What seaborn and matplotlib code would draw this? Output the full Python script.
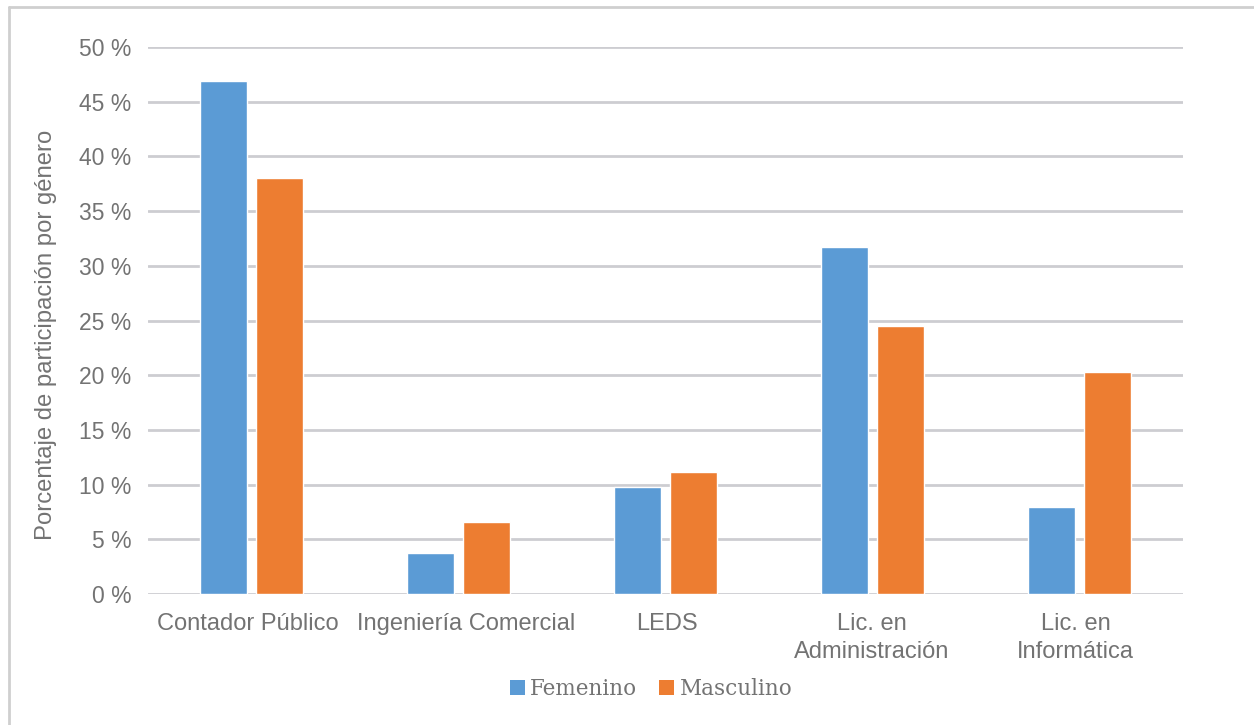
import matplotlib
matplotlib.use("Agg")
import matplotlib.pyplot as plt
from matplotlib.lines import Line2D
from matplotlib.patches import Patch
from matplotlib.transforms import ScaledTranslation
import seaborn as sns
import pandas as pd

# Participation by degree programme and gender (percent)
carreras = ["Contador Público", "Ingeniería Comercial", "LEDS",
            "Lic. en\nAdministración", "Lic. en\nInformática"]
femenino = [46.9, 3.75, 9.8, 31.7, 7.95]
masculino = [38.0, 6.6, 11.15, 24.5, 20.3]
generos = ["Femenino", "Masculino"]
colores = {"Femenino": "#5b9bd5", "Masculino": "#ed7d31"}
yticks = list(range(0, 51, 5))

df = pd.DataFrame({
    "carrera": carreras * 2,
    "genero": [generos[0]] * len(carreras) + [generos[1]] * len(carreras),
    "valor": femenino + masculino,
})

sns.set_theme(style="white")
plt.rcParams["font.family"] = ["Liberation Sans", "DejaVu Sans"]

fig = plt.figure(figsize=(12.54, 7.25), dpi=100)
ax = fig.add_axes([148 / 1254, 1 - 594 / 725, (1183 - 148) / 1254, (594 - 47) / 725])

sns.barplot(data=df, x="carrera", y="valor", hue="genero", order=carreras,
            hue_order=generos, palette=colores, width=0.54, gap=0.15,
            saturation=1, legend=False, ax=ax, zorder=3)

ax.set_ylim(0, 50)
ax.set_xlim(-0.5, len(carreras) - 0.5)
ax.set_yticks(yticks)
ax.set_yticklabels([f"{t} %" for t in yticks])
ax.yaxis.grid(True, color="#cdcdd1", linewidth=2.0, zorder=0)
ax.set_axisbelow(True)
for s in ax.spines.values():
    s.set_visible(False)
ax.tick_params(axis="y", length=0, pad=12, labelsize=16.5, labelcolor="#737373")
ax.tick_params(axis="x", length=0, pad=14, labelsize=17, labelcolor="#737373")

# Nudge the crowded category labels apart a little (pixels)
nudges = [-4, 8, 1, -1, -4]
for lbl, dx in zip(ax.get_xticklabels(), nudges):
    lbl.set_linespacing(1.32)
    lbl.set_transform(lbl.get_transform() + ScaledTranslation(dx / 100, 0, fig.dpi_scale_trans))

ax.set_xlabel("")
ax.set_ylabel("Porcentaje de participación por género", fontsize=17.2,
              color="#737373")
ax.yaxis.set_label_coords(-0.0875, 0.474)

# Legend below the plot
handles = [Patch(facecolor=colores[g], edgecolor="none") for g in generos]
leg = fig.legend(handles, generos, loc="center", bbox_to_anchor=(651 / 1254, 1 - 689 / 725),
                 ncol=2, frameon=False, handlelength=0.7, handleheight=0.7,
                 handletextpad=0.25, columnspacing=1.0,
                 prop={"family": ["DejaVu Serif"], "size": 15.5})
for t in leg.get_texts():
    t.set_color("#737373")

# Outer frame (left and top edges)
fig.add_artist(Line2D([9 / 1254, 9 / 1254], [0, 1 - 7 / 725], color="#cfcfcf",
                      linewidth=2, transform=fig.transFigure))
fig.add_artist(Line2D([9 / 1254, 1], [1 - 7 / 725, 1 - 7 / 725], color="#cfcfcf",
                      linewidth=2, transform=fig.transFigure))

fig.savefig("out.png", dpi=100, facecolor="white")
